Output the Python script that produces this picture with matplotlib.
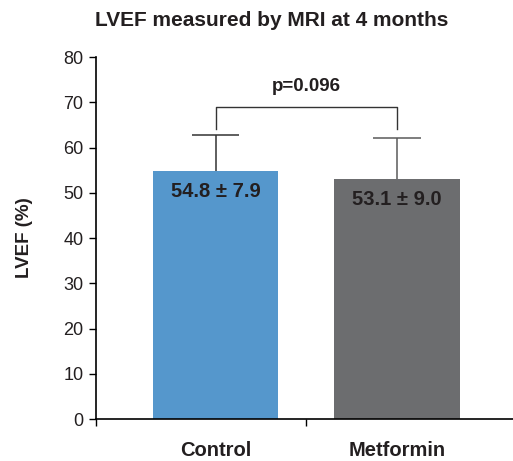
import numpy as np
import matplotlib
matplotlib.use('Agg')
import matplotlib.pyplot as plt

plt.rcParams['font.family'] = ['Liberation Sans', 'DejaVu Sans']

# data
groups = ['Control', 'Metformin']
means = [54.8, 53.1]
sds = [7.9, 9.0]
bar_labels = ['54.8 \u00b1 7.9', '53.1 \u00b1 9.0']
colors = ['#5597cc', '#6c6d6f']
err_colors = ['#333333', '#5a5a5a']
p_text = 'p=0.096'

fig = plt.figure(figsize=(5.13, 4.61), dpi=100)
ax = fig.add_axes([0.187, 0.091, 0.813, 0.785])

x = np.arange(len(groups))
ax.bar(x, means, width=0.69, color=colors, zorder=2)

# upper error bars only
cap = 0.13
for i in range(len(groups)):
    top = means[i] + sds[i]
    ax.vlines(x[i], means[i], top, color=err_colors[i], lw=1.1, zorder=1)
    ax.hlines(top, x[i] - cap, x[i] + cap, color=err_colors[i], lw=1.1, zorder=1)
    ax.text(x[i], means[i] - 4.5, bar_labels[i], ha='center', va='center',
            fontsize=14.5, fontweight='bold', color='#231f20', zorder=3)

# significance bracket
yb = 69.0
ax.plot([x[0], x[0], x[1], x[1]], [64.2, yb, yb, 64.2], color='#333333', lw=1)
ax.text((x[0] + x[1]) / 2, 73.6, p_text, ha='center', va='center',
        fontsize=13.5, fontweight='bold', color='#231f20')

ax.set_xlim(-0.66, 1.64)
ax.set_ylim(0, 80)
ax.set_yticks(np.arange(0, 81, 10))
ax.tick_params(axis='y', direction='out', length=5, width=1, labelsize=13,
               pad=4, labelcolor='#231f20')

ax.set_xticks(x)
ax.set_xticklabels(groups, fontsize=14.5, fontweight='bold', color='#231f20')
ax.tick_params(axis='x', which='major', length=0, pad=16)
ax.set_xticks([-0.66, 0.5], minor=True)
ax.tick_params(axis='x', which='minor', direction='out', length=5, width=1)

for s in ['top', 'right']:
    ax.spines[s].set_visible(False)
for s in ['left', 'bottom']:
    ax.spines[s].set_linewidth(1.2)

ax.set_ylabel('LVEF (%)', fontsize=13.5, fontweight='bold', color='#231f20', labelpad=22)
fig.text(0.53, 0.955, 'LVEF measured by MRI at 4 months', ha='center', va='center',
         fontsize=15, fontweight='bold', color='#231f20')

fig.savefig('out.png', dpi=100)
